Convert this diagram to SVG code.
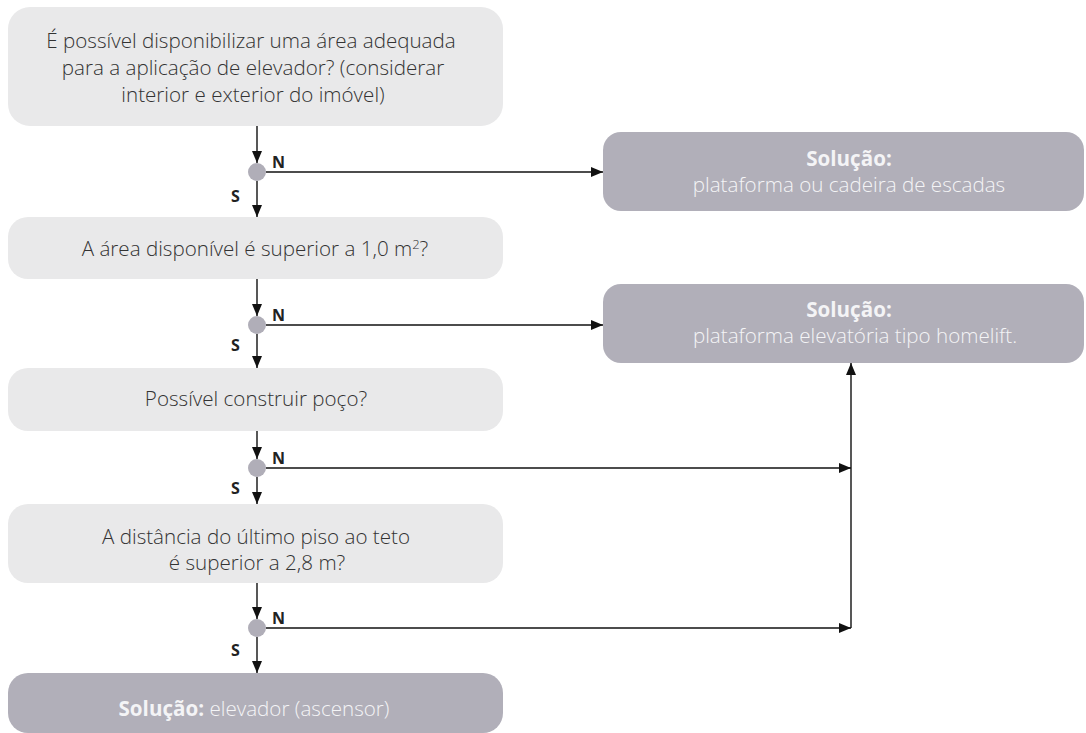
<svg xmlns="http://www.w3.org/2000/svg" width="1086" height="733" viewBox="0 0 1086 733">
<defs>
<marker id="arr" markerUnits="userSpaceOnUse" markerWidth="12" markerHeight="12" viewBox="0 0 12 12" refX="12" refY="6" orient="auto">
<path d="M0,1 L12,6 L0,11 Z" fill="#111"/>
</marker>
</defs>
<style>
.q{fill:#e9e9ea}
.s{fill:#b1afb9}
.qt{font-family:"Open Sans","Liberation Sans",sans-serif;font-weight:300;font-size:20.6px;fill:#333;text-anchor:middle}
.st{font-family:"Open Sans","Liberation Sans",sans-serif;font-weight:300;font-size:20.6px;fill:#f4f4f6;text-anchor:middle}
.b{font-weight:700}
.lb{font-family:"Open Sans","Liberation Sans",sans-serif;font-weight:700;font-size:16px;fill:#222}
.c{stroke:#111;stroke-width:1.4;fill:none}
.dot{fill:#b0aeb8}
</style>
<g id="q1"><rect class="q" x="8" y="7" width="495" height="119" rx="22"/>
<text class="qt" x="251" y="48">É possível disponibilizar uma área adequada</text>
<text class="qt" x="253" y="75">para a aplicação de elevador? (considerar</text>
<text class="qt" x="253" y="102">interior e exterior do imóvel)</text></g>
<g id="q2"><rect class="q" x="8" y="217" width="495" height="62" rx="20"/>
<text class="qt" x="255" y="256">A área disponível é superior a 1,0 m<tspan font-size="13" dy="-7">2</tspan><tspan dy="7">?</tspan></text></g>
<g id="q3"><rect class="q" x="8" y="368" width="495" height="63" rx="20"/>
<text class="qt" x="256" y="406">Possível construir poço?</text></g>
<g id="q4"><rect class="q" x="8" y="504" width="495" height="79" rx="20"/>
<text class="qt" x="256" y="544">A distância do último piso ao teto</text>
<text class="qt" x="257" y="570">é superior a 2,8 m?</text></g>
<g id="s1"><rect class="s" x="603" y="132" width="481" height="79" rx="18"/>
<text class="st" x="849" y="166"><tspan class="b">Solução:</tspan></text>
<text class="st" x="849" y="192">plataforma ou cadeira de escadas</text></g>
<g id="s2"><rect class="s" x="603" y="284" width="481" height="79" rx="18"/>
<text class="st" x="849" y="317"><tspan class="b">Solução:</tspan></text>
<text class="st" x="855" y="343">plataforma elevatória tipo homelift.</text></g>
<g id="s3"><rect class="s" x="8" y="673" width="495" height="60" rx="20"/>
<text class="st" x="254" y="716"><tspan class="b">Solução:</tspan> elevador (ascensor)</text></g>
<g id="decisions">
<circle class="dot" cx="257" cy="172" r="9"/>
<circle class="dot" cx="257" cy="325" r="9"/>
<circle class="dot" cx="257" cy="468" r="9"/>
<circle class="dot" cx="257" cy="628" r="9"/>
</g>
<g id="connectors">
<path class="c" d="M257,126 V163" marker-end="url(#arr)"/>
<path class="c" d="M257,181 V217" marker-end="url(#arr)"/>
<path class="c" d="M266,172 H603" marker-end="url(#arr)"/>
<path class="c" d="M257,279 V316" marker-end="url(#arr)"/>
<path class="c" d="M257,334 V368" marker-end="url(#arr)"/>
<path class="c" d="M266,325 H603" marker-end="url(#arr)"/>
<path class="c" d="M257,431 V459" marker-end="url(#arr)"/>
<path class="c" d="M257,477 V504" marker-end="url(#arr)"/>
<path class="c" d="M266,468 H851" marker-end="url(#arr)"/>
<path class="c" d="M257,583 V619" marker-end="url(#arr)"/>
<path class="c" d="M257,637 V673" marker-end="url(#arr)"/>
<path class="c" d="M266,628 H851" marker-end="url(#arr)"/>
<path class="c" d="M851,628 V363" marker-end="url(#arr)"/>
</g>
<g id="labels">
<text class="lb" x="272" y="168">N</text><text class="lb" x="231" y="202">S</text>
<text class="lb" x="272" y="321">N</text><text class="lb" x="231" y="351">S</text>
<text class="lb" x="272" y="464">N</text><text class="lb" x="231" y="494">S</text>
<text class="lb" x="272" y="624">N</text><text class="lb" x="231" y="656">S</text>
</g>
</svg>
